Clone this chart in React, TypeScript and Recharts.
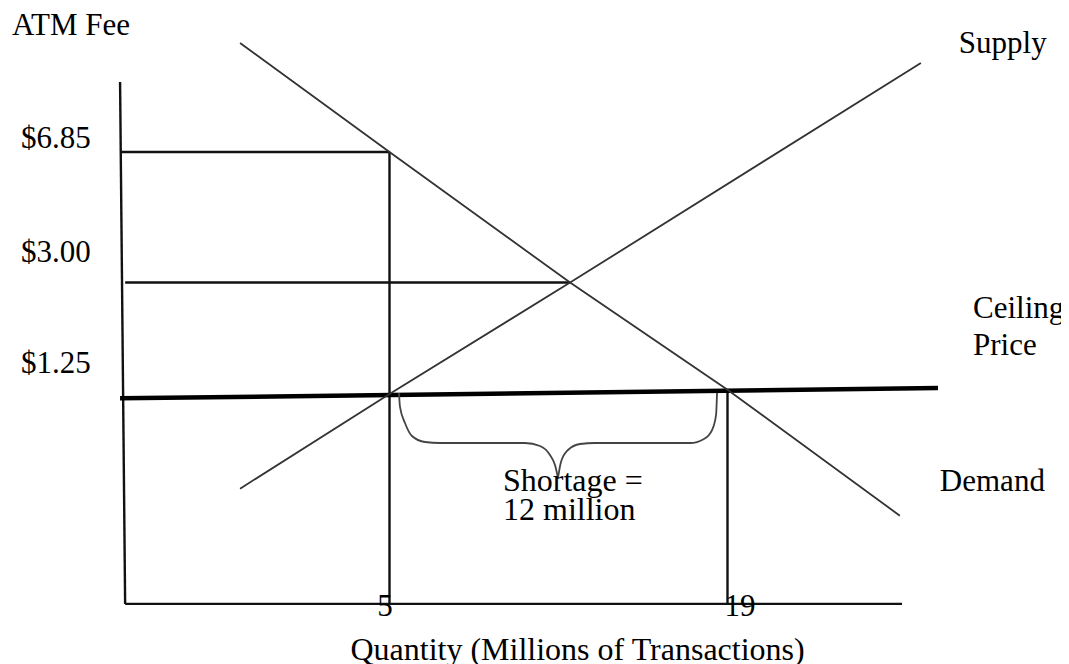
import React from 'react';
import { LineChart, Line, XAxis, YAxis, ReferenceLine, ReferenceDot } from 'recharts';

// ---- data (quantity in millions, price in $) ----
const PRICE_TICKS = [6.85, 3.0, 1.25];
const QUANTITY_TICKS = [5, 19];

const DEMAND_Q = [-1.19, 5, 12.48, 19, 26.14];
const DEMAND_P = [12.78, 6.85, 3.0, 1.3, 0.2];

const SUPPLY_Q = [-1.19, 5, 12.48, 27.01];
const SUPPLY_P = [0.38, 1.25, 3.0, 11.43];

const CEILING_Q = [-6.16, 27.72];
const CEILING_P = [1.2, 1.32];

const BRACE_LEFT_Q = [5.393, 5.435, 5.642, 5.932, 6.47, 7.092, 10.612, 11.234, 11.648, 11.855, 11.979];
const BRACE_LEFT_P = [1.262, 1.104, 0.937, 0.811, 0.756, 0.747, 0.747, 0.72, 0.642, 0.559, 0.458];
const BRACE_RIGHT_Q = [11.979, 12.103, 12.393, 12.89, 13.512, 17.447, 18.028, 18.36, 18.526, 18.567];
const BRACE_RIGHT_P = [0.458, 0.584, 0.685, 0.738, 0.747, 0.747, 0.784, 0.868, 1.019, 1.262];

const Y_AXIS_Q = [-6.16, -5.95];
const Y_AXIS_P = [10.27, -0.314];
const X_AXIS_Q = [-5.95, 26.23];
const X_AXIS_P = [-0.314, -0.314];

const HIGH_PRICE_Q = [-6.16, 5];
const HIGH_PRICE_P = [6.85, 6.85];
const EQ_PRICE_Q = [-5.95, 12.48];
const EQ_PRICE_P = [3.0, 3.0];
const Q5_Q = [5, 5];
const Q5_P = [6.85, -0.314];
const Q19_Q = [19, 19];
const Q19_P = [1.3, -0.314];

const Q_DOMAIN = [-6.5, 30];
const P_DOMAIN = [-0.4, 14];

const zip = (qs: number[], ps: number[]) => qs.map((q, i) => ({ q, p: ps[i] }));
const seg = (qs: number[], ps: number[]) => [
  { x: qs[0], y: ps[0] },
  { x: qs[1], y: ps[1] },
];

const demand = zip(DEMAND_Q, DEMAND_P);
const supply = zip(SUPPLY_Q, SUPPLY_P);
const braceLeft = zip(BRACE_LEFT_Q, BRACE_LEFT_P);
const braceRight = zip(BRACE_RIGHT_Q, BRACE_RIGHT_P);

// ---- styles ----
const FONT = '"Liberation Serif", "Times New Roman", serif';
const Y_TICK_DY: Record<string, number> = { '6.85': -4, '3': -21, '1.25': -21 };
const X_TICK_DX: Record<string, number> = { '5': -4.5, '19': 12.5 };

function PriceTick(props: any) {
  const { y, payload } = props;
  const v = Number(payload.value);
  return (
    <text x={13} y={y + (Y_TICK_DY[String(v)] ?? 0)} fontFamily={FONT} fontSize={31} fill="#000" textAnchor="start">
      {'$' + v.toFixed(2)}
    </text>
  );
}

function QuantityTick(props: any) {
  const { x, y, payload } = props;
  const v = Number(payload.value);
  return (
    <text x={x + (X_TICK_DX[String(v)] ?? 0)} y={y} fontFamily={FONT} fontSize={31} fill="#000" textAnchor="middle">
      {String(v)}
    </text>
  );
}

function Anno(props: any) {
  const { viewBox, lines, dx = 0, dy = 0, gap = 0, anchor = 'start', size = 31 } = props;
  const vb = viewBox || { x: 0, y: 0, width: 0, height: 0 };
  const cx = (vb.x ?? 0) + (vb.width ?? 0) / 2;
  const cy = (vb.y ?? 0) + (vb.height ?? 0) / 2;
  const x = cx + dx;
  const y = cy + dy;
  return (
    <text fontFamily={FONT} fontSize={size} fill="#000" textAnchor={anchor}>
      {lines.map((l: string, i: number) => (
        <tspan key={i} x={x} y={y + i * gap}>
          {l}
        </tspan>
      ))}
    </text>
  );
}

export default function App() {
  return (
    <div style={{ width: 1053, height: 656, overflow: 'visible' }}>
      <style>{'.recharts-wrapper, svg.recharts-surface { overflow: visible !important; }'}</style>
      <LineChart
        width={1053}
        height={656}
        margin={{ top: 18.58, right: 67.94, bottom: 7.8, left: 8.86 }}
      >
        <XAxis
          dataKey="q"
          type="number"
          domain={Q_DOMAIN}
          allowDataOverflow
          ticks={QUANTITY_TICKS}
          interval={0}
          axisLine={false}
          tickLine={false}
          tickSize={0}
          tickMargin={0}
          height={40}
          tick={<QuantityTick />}
        />
        <YAxis
          type="number"
          scale="symlog"
          domain={P_DOMAIN}
          allowDataOverflow
          ticks={PRICE_TICKS}
          interval={0}
          axisLine={false}
          tickLine={false}
          tickSize={0}
          tickMargin={0}
          width={95}
          tick={<PriceTick />}
        />

        {/* axes drawn by hand in the original */}
        <ReferenceLine segment={seg(Y_AXIS_Q, Y_AXIS_P)} stroke="#111" strokeWidth={2.4} ifOverflow="visible" />
        <ReferenceLine segment={seg(X_AXIS_Q, X_AXIS_P)} stroke="#111" strokeWidth={2.4} ifOverflow="visible" />

        {/* guide lines */}
        <ReferenceLine segment={seg(HIGH_PRICE_Q, HIGH_PRICE_P)} stroke="#111" strokeWidth={2.4} ifOverflow="visible" />
        <ReferenceLine segment={seg(Q5_Q, Q5_P)} stroke="#111" strokeWidth={2.4} ifOverflow="visible" />
        <ReferenceLine segment={seg(EQ_PRICE_Q, EQ_PRICE_P)} stroke="#111" strokeWidth={2.4} ifOverflow="visible" />
        <ReferenceLine segment={seg(Q19_Q, Q19_P)} stroke="#111" strokeWidth={2.4} ifOverflow="visible" />

        {/* ceiling price */}
        <ReferenceLine segment={seg(CEILING_Q, CEILING_P)} stroke="#000" strokeWidth={4.5} ifOverflow="visible" />

        <Line data={demand} dataKey="p" type="linear" stroke="#333" strokeWidth={1.8} dot={false} activeDot={false} isAnimationActive={false} />
        <Line data={supply} dataKey="p" type="linear" stroke="#333" strokeWidth={1.8} dot={false} activeDot={false} isAnimationActive={false} />
        <Line data={braceLeft} dataKey="p" type="monotoneX" stroke="#444" strokeWidth={1.8} dot={false} activeDot={false} isAnimationActive={false} />
        <Line data={braceRight} dataKey="p" type="monotoneX" stroke="#444" strokeWidth={1.8} dot={false} activeDot={false} isAnimationActive={false} />

        {/* annotations */}
        <ReferenceDot x={Y_AXIS_Q[0]} y={Y_AXIS_P[0]} r={0} fill="none" stroke="none" ifOverflow="visible"
          label={<Anno lines={['ATM Fee']} dx={-108} dy={-47} />} />
        <ReferenceDot x={SUPPLY_Q[3]} y={SUPPLY_P[3]} r={0} fill="none" stroke="none" ifOverflow="visible"
          label={<Anno lines={['Supply']} dx={38} dy={-10} />} />
        <ReferenceDot x={CEILING_Q[1]} y={CEILING_P[1]} r={0} fill="none" stroke="none" ifOverflow="visible"
          label={<Anno lines={['Ceiling', 'Price']} dx={35} dy={-70} gap={37} />} />
        <ReferenceDot x={DEMAND_Q[4]} y={DEMAND_P[4]} r={0} fill="none" stroke="none" ifOverflow="visible"
          label={<Anno lines={['Demand']} dx={40} dy={-25} />} />
        <ReferenceDot x={BRACE_LEFT_Q[10]} y={BRACE_LEFT_P[10]} r={0} fill="none" stroke="none" ifOverflow="visible"
          label={<Anno lines={['Shortage =', '12 million']} dx={-55} dy={13} gap={29} size={32} />} />
        <ReferenceDot x={12.79} y={X_AXIS_P[0]} r={0} fill="none" stroke="none" ifOverflow="visible"
          label={<Anno lines={['Quantity (Millions of Transactions)']} dx={0} dy={56} anchor="middle" size={32} />} />
      </LineChart>
    </div>
  );
}
